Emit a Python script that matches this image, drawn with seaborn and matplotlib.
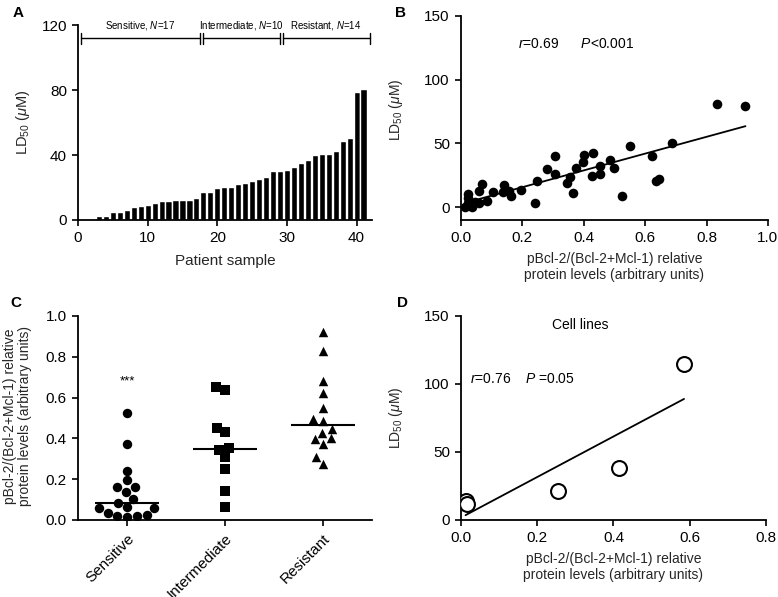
import numpy as np
import pandas as pd
import matplotlib
matplotlib.use("Agg")
import matplotlib.pyplot as plt
import seaborn as sns

# Panel A: LD50 per patient sample, sorted
ld50_sorted = [0.3, 0.6, 2.7, 2.7, 4.7, 4.7, 6.0, 7.8, 8.6, 9.4,
               10.2, 11.8, 11.8, 12.6, 12.6, 12.6, 13.3, 17.3, 17.3, 19.4,
               20.6, 20.6, 22.0, 23.0, 24.3, 25.5, 26.7, 30.2, 30.2, 30.6,
               32.4, 35.0, 37.0, 40.2, 40.8, 40.8, 42.6, 48.5, 50.6, 79.0, 80.4]
samples = list(range(1, len(ld50_sorted) + 1))
group_names = ["Sensitive", "Intermediate", "Resistant"]
group_n = [17, 10, 14]

# Panel B: ratio vs LD50 (patients)
ratio_b = [0.835, 0.927, 0.689, 0.621, 0.637, 0.645, 0.550, 0.525, 0.498, 0.487,
           0.454, 0.454, 0.427, 0.431, 0.400, 0.398, 0.374, 0.366, 0.355, 0.344,
           0.306, 0.306, 0.279, 0.248, 0.241, 0.194, 0.162, 0.157, 0.140, 0.138,
           0.103, 0.084, 0.067, 0.060, 0.060, 0.046, 0.035, 0.024, 0.022, 0.022, 0.013]
ld50_b = [80.6, 79.3, 50.6, 40.4, 20.6, 21.9, 48.3, 9.1, 30.5, 37.0,
          32.6, 26.1, 24.5, 42.3, 41.0, 35.2, 30.5, 11.5, 23.5, 19.3,
          40.4, 26.1, 30.0, 20.9, 3.1, 13.6, 8.9, 13.0, 17.5, 12.3,
          12.3, 5.0, 18.3, 12.8, 3.1, 4.4, 0.0, 10.4, 7.0, 3.0, 0.0]

# Panel C: ratio by group
sensitive = [0.523, 0.371, 0.242, 0.195, 0.160, 0.160, 0.137, 0.103, 0.082,
             0.057, 0.057, 0.065, 0.033, 0.021, 0.016, 0.021, 0.025]
intermediate = [0.650, 0.637, 0.452, 0.430, 0.355, 0.343, 0.307, 0.248, 0.144, 0.065]
resistant = [0.923, 0.828, 0.683, 0.624, 0.547, 0.493, 0.487, 0.446,
             0.425, 0.397, 0.400, 0.372, 0.307, 0.274]

# Panel D: cell lines
ratio_d = [0.012, 0.015, 0.255, 0.415, 0.585]
ld50_d = [14.2, 11.5, 21.3, 38.5, 114.5]

sns.set_style("ticks")
plt.rcParams["font.family"] = ["Liberation Sans", "DejaVu Sans"]
plt.rcParams["mathtext.fontset"] = "custom"
plt.rcParams["mathtext.rm"] = "Liberation Sans"
plt.rcParams["mathtext.it"] = "Liberation Sans:italic"
plt.rcParams["mathtext.bf"] = "Liberation Sans:bold"
plt.rcParams["axes.linewidth"] = 1.3
plt.rcParams["xtick.major.width"] = 1.2
plt.rcParams["ytick.major.width"] = 1.2
plt.rcParams["xtick.major.size"] = 4.5
plt.rcParams["ytick.major.size"] = 4.5
plt.rcParams["xtick.labelsize"] = 11
plt.rcParams["ytick.labelsize"] = 11
plt.rcParams["axes.labelsize"] = 10
plt.rcParams["text.color"] = "black"
plt.rcParams["axes.edgecolor"] = "black"
plt.rcParams["xtick.color"] = "black"
plt.rcParams["ytick.color"] = "black"

fig = plt.figure(figsize=(7.78, 5.97), dpi=100)
axA = fig.add_axes([0.1003, 0.6315, 0.3777, 0.3265])
axB = fig.add_axes([0.5925, 0.6315, 0.3945, 0.3422])
axC = fig.add_axes([0.1003, 0.129, 0.3777, 0.3417])
axD = fig.add_axes([0.5925, 0.129, 0.3921, 0.3417])

ld50_label = r"LD$_{\mathrm{50}}$ ($\mu$M)"
ratio_label = "pBcl-2/(Bcl-2+Mcl-1) relative\nprotein levels (arbitrary units)"

# ---- A ----
dfA = pd.DataFrame({"sample": samples, "ld50": ld50_sorted})
sns.barplot(data=dfA, x="sample", y="ld50", native_scale=True, color="black",
            width=0.88, saturation=1, errorbar=None, ax=axA)
axA.set_xlim(0, 42.2)
axA.set_ylim(0, 120)
axA.set_xticks([0, 10, 20, 30, 40])
axA.set_yticks([0, 40, 80, 120])
axA.set_xlabel("Patient sample", fontsize=11)
axA.set_ylabel(ld50_label, fontsize=10.5)
axA.xaxis.set_label_coords(0.5, -0.175)
axA.yaxis.set_label_coords(-0.158, 0.5)

# group brackets
segs = [(0.45, 17.55), (17.95, 29.0), (29.4, 41.9)]
label_x = [8.9, 23.4, 35.6]
for (a, b), name, n, lx in zip(segs, group_names, group_n, label_x):
    axA.plot([a, b], [112, 112], color="black", lw=1.0, clip_on=False)
    axA.plot([a, a], [108.6, 115.4], color="black", lw=1.0, clip_on=False)
    axA.plot([b, b], [108.6, 115.4], color="black", lw=1.0, clip_on=False)
    axA.text(lx, 120, name + r", $N$=" + str(n), ha="center", va="center", fontsize=7)

# ---- B ----
sns.scatterplot(x=ratio_b, y=ld50_b, color="black", s=48, edgecolor="black",
                linewidth=0, ax=axB, zorder=3)
sns.regplot(x=ratio_b, y=ld50_b, scatter=False, ci=None, color="black",
            line_kws={"lw": 1.3}, ax=axB)
axB.set_xlim(0, 1.0)
axB.set_ylim(-10, 150)
axB.set_xticks(np.arange(0, 1.01, 0.2))
axB.set_xticklabels([f"{v:.1f}" for v in np.arange(0, 1.01, 0.2)])
axB.set_yticks([0, 50, 100, 150])
axB.set_xlabel(ratio_label, linespacing=1.2)
axB.set_ylabel(ld50_label)
axB.xaxis.set_label_coords(0.5, -0.155)
axB.yaxis.set_label_coords(-0.182, 0.54)
axB.text(0.185, 128, r"$r$=0.69      $P$<0.001", ha="left", va="center", fontsize=10)

# ---- C ----
markers = ["o", "s", "^"]
sizes = [6.8, 6.5, 6.8]
for name, vals, m, sz in zip(group_names, [sensitive, intermediate, resistant], markers, sizes):
    sns.swarmplot(x=[name] * len(vals), y=vals, order=group_names, marker=m,
                  color="black", size=sz, ax=axC)
for i, vals in enumerate([sensitive, intermediate, resistant]):
    axC.hlines(np.median(vals), i - 0.33, i + 0.33, color="black", lw=1.5, zorder=4)
axC.text(0, 0.68, "***", ha="center", va="center", fontsize=9.5)
axC.set_xlim(-0.5, 2.5)
axC.set_ylim(0, 1.0)
axC.set_yticks(np.arange(0, 1.01, 0.2))
axC.set_yticklabels([f"{v:.1f}" for v in np.arange(0, 1.01, 0.2)])
axC.set_xticks([0, 1, 2])
axC.set_xticklabels(group_names, rotation=45, ha="right", rotation_mode="anchor")
axC.set_xlabel("")
axC.set_ylabel(ratio_label, linespacing=1.1)
axC.yaxis.set_label_coords(-0.156, 0.51)

# ---- D ----
sns.scatterplot(x=ratio_d, y=ld50_d, marker="o", s=115, facecolor="white",
                edgecolor="black", linewidth=1.5, ax=axD, zorder=3)
sns.regplot(x=ratio_d, y=ld50_d, scatter=False, ci=None, color="black",
            line_kws={"lw": 1.3}, ax=axD)
axD.set_xlim(0, 0.8)
axD.set_ylim(0, 150)
axD.set_xticks(np.arange(0, 0.81, 0.2))
axD.set_xticklabels([f"{v:.1f}" for v in np.arange(0, 0.81, 0.2)])
axD.set_yticks([0, 50, 100, 150])
axD.set_xlabel(ratio_label, linespacing=1.2)
axD.set_ylabel(ld50_label)
axD.xaxis.set_label_coords(0.5, -0.155)
axD.yaxis.set_label_coords(-0.184, 0.5)
axD.text(0.025, 104, r"$r$=0.76    $P$ =0.05", ha="left", va="center", fontsize=10)
axD.text(0.312, 143.4, "Cell lines", ha="center", va="center", fontsize=10)

for ax in [axA, axB, axC, axD]:
    sns.despine(ax=ax)

# panel letters
for lab, x, y in [("A", 13, 6), ("B", 395, 6), ("C", 10, 296), ("D", 397, 296)]:
    fig.text(x / 778, 1 - y / 597, lab, ha="left", va="top", fontsize=11, fontweight="bold")

fig.savefig("out.png", dpi=100)
